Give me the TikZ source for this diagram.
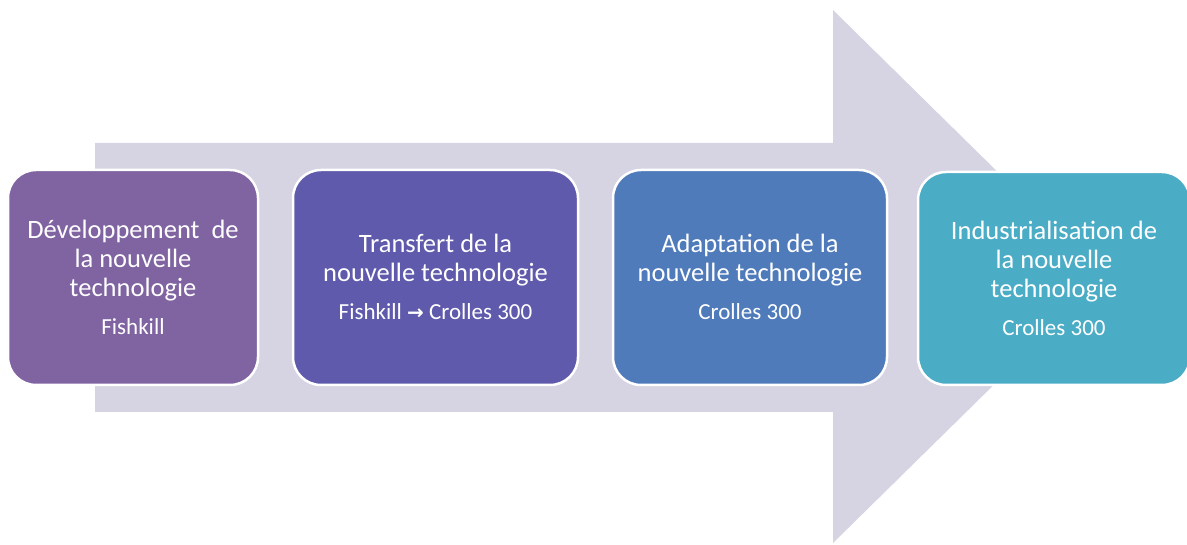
\documentclass[tikz,border=0pt]{standalone}
\usepackage{fontspec}
\setmainfont{Carlito}
\newfontfamily\symfont{DejaVu Sans}
\definecolor{arrowcol}{HTML}{D6D3E3}
\definecolor{boxa}{HTML}{8064A2}
\definecolor{boxb}{HTML}{5F5AAB}
\definecolor{boxc}{HTML}{4F7BBB}
\definecolor{boxd}{HTML}{4BACC6}
\tikzset{
  stagebox/.style={draw=white, line width=2.5pt, rounded corners=28pt, text=white,
    align=center, inner sep=0pt, font=\fontsize{26.5}{29}\selectfont},
}
\newcommand{\placetxt}[1]{\\[9pt]{\fontsize{23}{23}\selectfont #1}}
\begin{document}
\begin{tikzpicture}[x=1pt,y=-1pt]
\useasboundingbox (0,0) rectangle (1187,545);
\fill[arrowcol] (95,143) -- (833,143) -- (833,10) -- (1104,276.5) -- (833,543) -- (833,412) -- (95,412) -- cycle;
\node[stagebox, fill=boxa, minimum width=250pt, minimum height=215pt] (s1) at (133,277.5) {};
\node[stagebox, fill=boxb, minimum width=285pt, minimum height=215pt] (s2) at (435.5,277.5) {};
\node[stagebox, fill=boxc, minimum width=274pt, minimum height=215pt] (s3) at (750,277.5) {};
\node[stagebox, fill=boxd, minimum width=272pt, minimum height=213pt] (s4) at (1054,278.5) {};
\node[stagebox, draw=none] (t1) at (s1.center) {Développement\ \ de\\la nouvelle\\technologie\placetxt{Fishkill}};
\node[stagebox, draw=none] (t2) at ([yshift=1pt]s2.center) {Transfert de la\\nouvelle technologie\placetxt{Fishkill {\symfont\bfseries\fontsize{20}{23}\selectfont →} Crolles 300}};
\node[stagebox, draw=none] (t3) at ([yshift=1pt]s3.center) {Adaptation de la\\nouvelle technologie\placetxt{Crolles 300}};
\node[stagebox, draw=none] (t4) at (s4.center) {Industrialisation de\\la nouvelle\\technologie\placetxt{Crolles 300}};
\end{tikzpicture}
\end{document}
